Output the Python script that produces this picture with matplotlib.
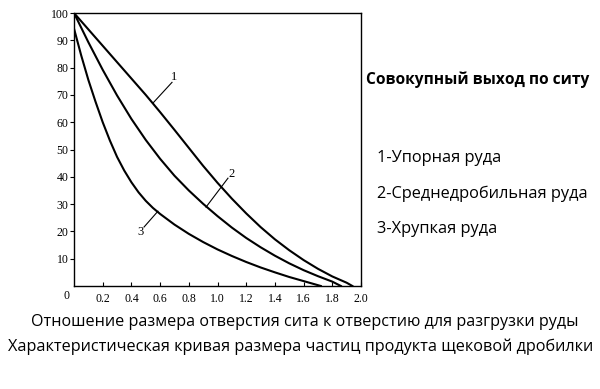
import matplotlib.pyplot as plt

# curve 1 - упорная руда
x1 = [0, 0.1, 0.2, 0.3, 0.4, 0.5, 0.6, 0.7, 0.8, 0.9, 1.0, 1.1, 1.2, 1.3, 1.4, 1.5, 1.6, 1.7, 1.8, 1.9, 1.94]
y1 = [100, 94, 88, 82, 76, 70, 63.7, 57.2, 50.6, 44.0, 37.8, 32.0, 26.6, 21.6, 17.1, 13.1, 9.5, 6.3, 3.5, 1.2, 0]
# curve 2 - среднедробильная руда
x2 = [0, 0.1, 0.2, 0.3, 0.4, 0.5, 0.6, 0.7, 0.8, 0.9, 1.0, 1.1, 1.2, 1.3, 1.4, 1.5, 1.6, 1.7, 1.8, 1.86]
y2 = [100, 89.3, 79.2, 69.8, 61.2, 53.5, 46.6, 40.4, 35.0, 30.1, 25.6, 21.4, 17.6, 14.2, 11.1, 8.3, 5.8, 3.6, 1.6, 0]
# curve 3 - хрупкая руда
x3 = [0, 0.05, 0.1, 0.15, 0.2, 0.25, 0.3, 0.35, 0.4, 0.45, 0.5, 0.55, 0.6, 0.7, 0.8, 0.9, 1.0,
      1.1, 1.2, 1.3, 1.4, 1.5, 1.6, 1.72]
y3 = [94.3, 84.5, 75.5, 67.5, 60.0, 53.3, 47.3, 42.3, 38.0, 34.3, 31.2, 28.6, 26.4, 22.5, 19.1, 16.1, 13.4,
      11.0, 8.8, 6.8, 5.0, 3.3, 1.8, 0]

xticks = [0.2, 0.4, 0.6, 0.8, 1.0, 1.2, 1.4, 1.6, 1.8, 2.0]
yticks = [10, 20, 30, 40, 50, 60, 70, 80, 90, 100]

legend_lines = ["1-Упорная руда", "2-Среднедробильная руда", "3-Хрупкая руда"]
side_title = "Совокупный выход по ситу"
xlabel = "Отношение размера отверстия сита к отверстию для разгрузки руды"
caption = "Характеристическая кривая размера частиц продукта щековой дробилки"

fig = plt.figure(figsize=(6, 3.89), dpi=100)
ax = fig.add_axes([74 / 600, 1 - 286 / 389, 287 / 600, 273 / 389])

for x, y in [(x1, y1), (x2, y2), (x3, y3)]:
    ax.plot(x, y, color="black", lw=1.5)

# curve labels with leader lines
serif = "Liberation Serif"
ax.plot([0.55, 0.683], [67, 74.6], color="black", lw=0.8)
ax.text(0.70, 76.4, "1", fontsize=9, family=serif, ha="center", va="center")
ax.plot([0.92, 1.073], [28.9, 39.5], color="black", lw=0.8)
ax.text(1.10, 41.0, "2", fontsize=9, family=serif, ha="center", va="center")
ax.plot([0.585, 0.488], [27.4, 21.6], color="black", lw=0.8)
ax.text(0.46, 19.7, "3", fontsize=9, family=serif, ha="center", va="center")

ax.set_xlim(0, 2.0)
ax.set_ylim(0, 100)
ax.set_xticks(xticks)
ax.set_xticklabels(["%.1f" % v for v in xticks], family=serif, fontsize=8.5)
ax.set_yticks(yticks)
ax.set_yticklabels([str(v) for v in yticks], family=serif, fontsize=8.5)
ax.tick_params(axis="x", direction="in", length=3, pad=5)
ax.tick_params(axis="y", direction="out", length=3, pad=1)
for s in ax.spines.values():
    s.set_linewidth(1.0)
fig.text(67 / 600, 1 - 296 / 389, "0", family=serif, fontsize=8.5, ha="center", va="center")

sans = ["Open Sans", "DejaVu Sans"]
fig.text(366 / 600, 1 - 80 / 389, side_title, family=sans, fontsize=11.2,
         fontweight="bold", ha="left", va="center")
for i, t in enumerate(legend_lines):
    fig.text(377 / 600, 1 - (158 + 35.5 * i) / 389, t, family=sans, fontsize=11.8,
             ha="left", va="center")

fig.text(305 / 600, 1 - 322 / 389, xlabel, family=sans, fontsize=11.6, ha="center", va="center")
fig.text(301 / 600, 1 - 347 / 389, caption, family=sans, fontsize=11.7, ha="center", va="center")

plt.savefig("out.png", dpi=100)
